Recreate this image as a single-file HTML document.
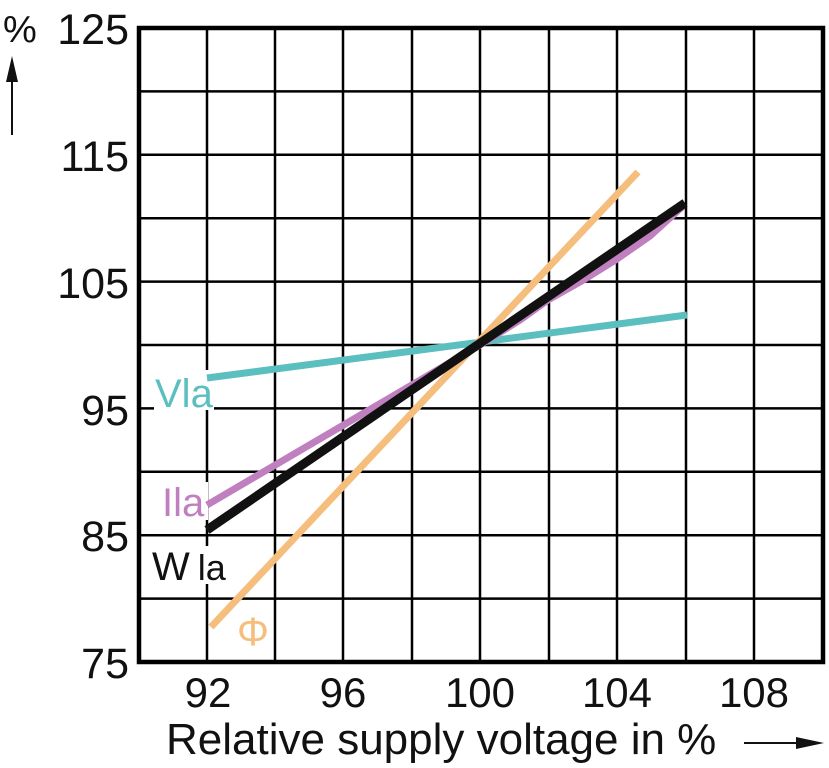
<!DOCTYPE html>
<html><head><meta charset="utf-8"><style>
html,body{margin:0;padding:0;background:#fff;}
svg{display:block;}
text{font-family:"Liberation Sans",Arial,sans-serif;}
</style></head><body>
<svg width="829" height="768" viewBox="0 0 829 768" xmlns="http://www.w3.org/2000/svg">
<rect width="829" height="768" fill="#fff"/>
<g stroke="#000" stroke-width="2.5">
<line x1="207" y1="28" x2="207" y2="662"/>
<line x1="275" y1="28" x2="275" y2="662"/>
<line x1="343" y1="28" x2="343" y2="662"/>
<line x1="412" y1="28" x2="412" y2="662"/>
<line x1="480" y1="28" x2="480" y2="662"/>
<line x1="549" y1="28" x2="549" y2="662"/>
<line x1="617" y1="28" x2="617" y2="662"/>
<line x1="686" y1="28" x2="686" y2="662"/>
<line x1="754" y1="28" x2="754" y2="662"/>
<line x1="139" y1="91.4" x2="823" y2="91.4"/>
<line x1="139" y1="154.8" x2="823" y2="154.8"/>
<line x1="139" y1="218.2" x2="823" y2="218.2"/>
<line x1="139" y1="281.6" x2="823" y2="281.6"/>
<line x1="139" y1="345" x2="823" y2="345"/>
<line x1="139" y1="408.4" x2="823" y2="408.4"/>
<line x1="139" y1="471.8" x2="823" y2="471.8"/>
<line x1="139" y1="535.2" x2="823" y2="535.2"/>
<line x1="139" y1="598.6" x2="823" y2="598.6"/>
</g>
<rect x="139" y="28" width="684" height="634" fill="none" stroke="#000" stroke-width="4.5"/>
<rect x="154" y="370" width="60" height="40" fill="#fff"/>
<rect x="160" y="482" width="48" height="38" fill="#fff"/>
<rect x="150" y="546" width="85" height="38" fill="#fff"/>
<line x1="207" y1="378" x2="687" y2="315" stroke="#5bbfbf" stroke-width="7"/>
<line x1="211" y1="627" x2="638" y2="172" stroke="#f5be7d" stroke-width="7"/>
<polyline points="207,505 480,345 520,320 548,300 580,282 617,259 650,236 683,206" fill="none" stroke="#c080c0" stroke-width="7" stroke-linejoin="round"/>
<line x1="207" y1="530" x2="685" y2="203" stroke="#111" stroke-width="9"/>
<text x="155" y="407" font-size="40" fill="#5bbfbf">Vla</text>
<text x="162" y="516" font-size="40" fill="#c080c0">Ila</text>
<text x="152" y="580" font-size="40" fill="#111">W<tspan font-size="36" dx="8">la</tspan></text>
<text x="237" y="645" font-size="40" fill="#f5be7d">Φ</text>
<g font-size="43" text-anchor="end" fill="#111">
<text x="129" y="44">125</text>
<text x="129" y="171">115</text>
<text x="129" y="298">105</text>
<text x="129" y="425">95</text>
<text x="129" y="551">85</text>
<text x="129" y="678">75</text>
</g>
<text x="3" y="42" font-size="38" fill="#111">%</text>
<line x1="12" y1="135" x2="12" y2="75" stroke="#111" stroke-width="2"/>
<polygon points="12,56 6,82 18,82" fill="#111"/>
<g font-size="42" text-anchor="middle" fill="#111">
<text x="208" y="707">92</text>
<text x="343" y="707">96</text>
<text x="480" y="707">100</text>
<text x="617" y="707">104</text>
<text x="754" y="707">108</text>
</g>
<text x="166" y="754" font-size="44" fill="#111">Relative supply voltage in %</text>
<line x1="744" y1="743" x2="805" y2="743" stroke="#111" stroke-width="2"/>
<polygon points="824,743 796,737 796,749" fill="#111"/>
</svg>
</body></html>
